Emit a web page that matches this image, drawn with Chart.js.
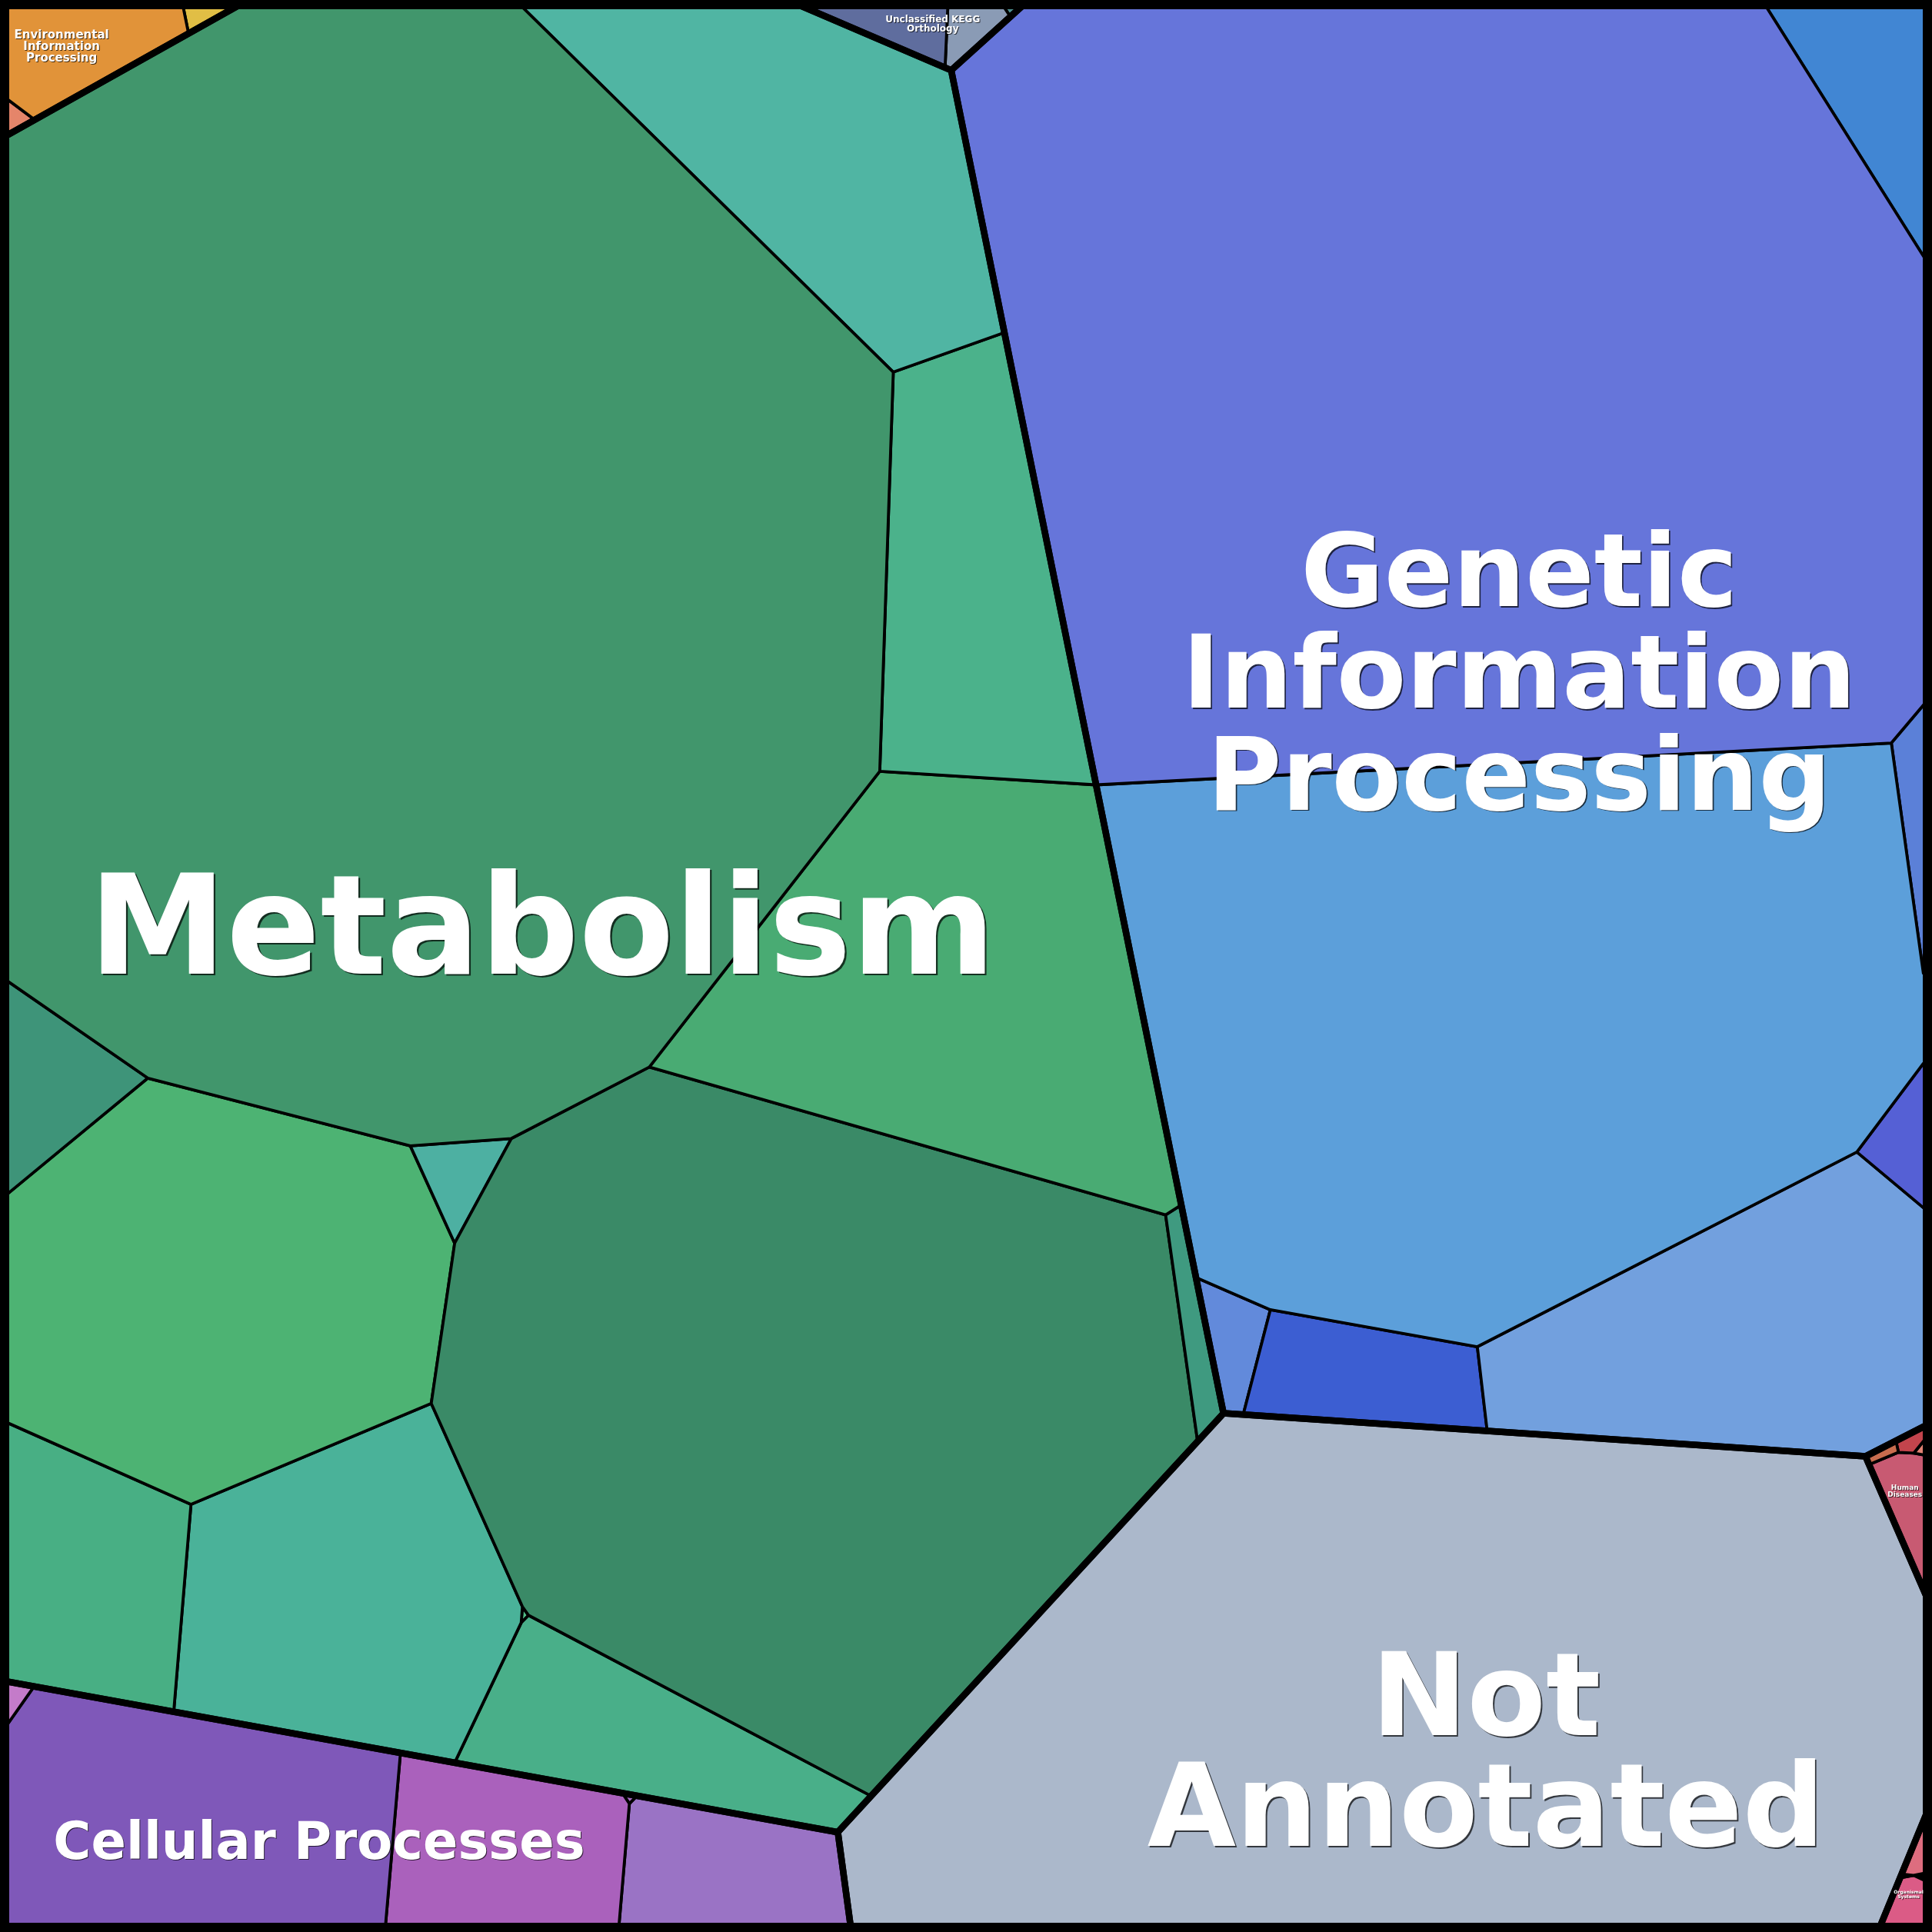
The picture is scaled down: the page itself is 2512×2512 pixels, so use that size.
<!DOCTYPE html>
<html>
<head>
<meta charset="utf-8">
<script src="https://cdn.jsdelivr.net/npm/chart.js@4.4.0/dist/chart.umd.min.js"></script>
<style>
  html, body { margin: 0; padding: 0; background: #000; }
  canvas { display: block; }
</style>
</head>
<body>
<canvas id="voronoiChart" width="2512" height="2512"></canvas>
<script>
// ------- categories (top level cells) -------
const categories = ['Metabolism', 'Genetic Information Processing', 'Not Annotated', 'Cellular Processes',
  'Environmental Information Processing', 'Unclassified KEGG Orthology', 'Human Diseases', 'Organismal Systems']

// outline of each category, same order as categories (plot units 0..1568)
const categoryOutlines = [
  [[0,113],[201.5,0],[639,0],[772,57],[993,1147],[680,1487],[0,1363.7]],
  [[772,57],[835,0],[1568,0],[1568,1154.4],[1514,1182],[993,1147]],
  [[993,1147],[1514,1182],[1568,1306],[1568,1461],[1524,1568],[691,1568],[680,1487]],
  [[0,1363.7],[680,1487],[691,1568],[0,1568]],
  [[0,0],[201.5,0],[0,113]],
  [[639,0],[835,0],[772,57]],
  [[1514,1182],[1568,1154.4],[1568,1306]],
  [[1568,1461],[1568,1568],[1524,1568]]
]

// ------- sub cells per category -------
const metabolismCells = [
  [[0,113],[201.5,0],[418,0],[725,302],[714,626],[527,866],[415,924],[333,930],[120,875],[0,792]],
  [[418,0],[639,0],[772,57],[815,270],[725,302]],
  [[725,302],[815,270],[889.5,637],[714,626]],
  [[714,626],[889.5,637],[958.5,978],[946,986],[527,866]],
  [[946,986],[958.5,978],[993,1147],[972,1170]],
  [[369,1009],[415,924],[527,866],[946,986],[972,1170],[707,1457.6],[429,1311],[424,1304],[350,1139]],
  [[333,930],[415,924],[369,1009]],
  [[0,792],[120,875],[0,974]],
  [[0,974],[120,875],[333,930],[369,1009],[350,1139],[155,1221],[0,1152]],
  [[0,1152],[155,1221],[141,1389.3],[0,1363.7]],
  [[155,1221],[350,1139],[424,1304],[423,1317],[369,1430.6],[141,1389.3]],
  [[423,1317],[429,1311],[707,1457.6],[680,1487],[369,1430.6]],
  [[424,1304],[429,1311],[423,1317]]
]
const geneticCells = [
  [[772,57],[835,0],[1430,0],[1568,219],[1568,564],[1535,603],[889.5,637]],
  [[1430,0],[1568,0],[1568,219]],
  [[889.5,637],[1535,603],[1561,790],[1568,790],[1568,863],[1561,863],[1507,935],[1199,1093],[1031,1063],[971,1037]],
  [[1535,603],[1568,564],[1568,790],[1561,790]],
  [[1507,935],[1561,863],[1568,863],[1568,986]],
  [[1199,1093],[1507,935],[1568,986],[1568,1154.4],[1514,1182],[1207,1161.4]],
  [[1031,1063],[1199,1093],[1207,1161.4],[1009,1148.1]],
  [[971,1037],[1031,1063],[1009,1148.1],[993,1147]]
]
const notAnnotatedCells = [
  [[993,1147],[1514,1182],[1568,1306],[1568,1461],[1524,1568],[691,1568],[680,1487]]
]
const cellularCells = [
  [[0,1363.7],[27.7,1368.7],[0,1408]],
  [[0,1408],[27.7,1368.7],[325,1422.6],[312.4,1568],[0,1568]],
  [[325,1422.6],[505,1455.2],[510.8,1463.8],[501.9,1568],[312.4,1568]],
  [[505,1455.2],[517,1457.4],[510.8,1463.8]],
  [[517,1457.4],[680,1487],[691,1568],[501.9,1568],[510.8,1463.8]]
]
const environmentalCells = [
  [[0,0],[147.5,0],[153,27],[28,97],[0,76]],
  [[147.5,0],[201.5,0],[153,27]],
  [[0,76],[28,97],[0,113]]
]
const unclassifiedCells = [
  [[639,0],[769.5,0],[767,55],[772,57]],
  [[769.5,0],[811,0],[820,13.5],[772,57],[767,55]],
  [[811,0],[835,0],[820,13.5]]
]
const humanCells = [
  [[1514,1182],[1538.7,1169.4],[1540.8,1178.7],[1517.3,1188.5]],
  [[1538.7,1169.4],[1568,1154.4],[1568,1161],[1553.3,1179.3],[1540.8,1178.7]],
  [[1553.3,1179.3],[1568,1161],[1568,1182]],
  [[1517.3,1188.5],[1540.8,1178.7],[1553.3,1179.3],[1568,1182],[1568,1306]]
]
const organismalCells = [
  [[1568,1461],[1568,1519],[1553,1522],[1543.4,1521]],
  [[1543.4,1521],[1553,1522],[1542.1,1524]],
  [[1542.1,1524],[1553,1522],[1568,1529],[1568,1568],[1524.1,1568]]
]

// ------- colours -------
const metabolismColors = ['#41966c', '#50b5a3', '#4bb28b', '#49ab73', '#3f9a80', '#3a8a67', '#4db0a2',
  '#3e9479', '#4db373', '#48af84', '#4ab299', '#49af89', '#52bc88']
const geneticColors = ['#6675da', '#4186d3', '#5c9fda', '#5b80d8', '#5560d5', '#72a0de', '#3c5ed2', '#628adb']
const notAnnotatedColors = ['#abb8cb']
const cellularColors = ['#c47bc9', '#7f58b9', '#aa61bc', '#a46ac0', '#9a73c5']
const environmentalColors = ['#e19339', '#e1be45', '#e5856a']
const unclassifiedColors = ['#5f6d9e', '#8a9bb5', '#4e9090']
const humanColors = ['#c86d4e', '#c3444c', '#e18273', '#c85a72']
const organismalColors = ['#dd6d7f', '#e0655e', '#db5b86']

// ------- labels -------
const labelLines = [
  ['Metabolism'],
  ['Genetic', 'Information', 'Processing'],
  ['Not', 'Annotated'],
  ['Cellular Processes'],
  ['Environmental', 'Information', 'Processing'],
  ['Unclassified KEGG', 'Orthology'],
  ['Human', 'Diseases'],
  ['Organismal', 'Systems']
]
// [x, first baseline, line step] in plot units, font size in px
const labelAnchors = [[440, 790, 0], [1233, 492, 82.5], [1206, 1408, 90], [259, 1509, 0],
  [50, 31, 9.6], [757, 18.3, 7.1], [1546, 1209.3, 5.6], [1549, 1537, 3.7]]
const labelSizes = [180, 132, 149, 67, 15, 12, 9, 6]

const frame = [[0,0],[1568,0],[1568,1568],[0,1568]]

const polygon = pts => pts.concat([pts[0]]).map(([x, y]) => ({ x, y }))

const lineBase = { showLine: true, pointRadius: 0, pointHoverRadius: 0, tension: 0,
  borderColor: '#000', borderJoinStyle: 'round', borderCapStyle: 'round' }

const cellGroups = [
  [metabolismCells, metabolismColors], [geneticCells, geneticColors], [notAnnotatedCells, notAnnotatedColors],
  [cellularCells, cellularColors], [environmentalCells, environmentalColors], [unclassifiedCells, unclassifiedColors],
  [humanCells, humanColors], [organismalCells, organismalColors]
]

const datasets = []
cellGroups.forEach(([cells, colors]) => {
  cells.forEach((pts, i) => {
    datasets.push({ ...lineBase, data: polygon(pts), backgroundColor: colors[i], borderWidth: 3.8, fill: 'shape', order: 3 })
  })
})
categoryOutlines.forEach((pts, i) => {
  datasets.push({ ...lineBase, label: categories[i], data: polygon(pts), borderWidth: 8.5, fill: false, order: 2 })
})
datasets.push({ ...lineBase, data: polygon(frame), borderWidth: 24, borderJoinStyle: 'miter', fill: false, order: 1 })

//    ------- labels plugin ----------
const labelPlugin = {
  id: 'cellLabels',
  afterDatasetsDraw(chart) {
    const { ctx, scales: { x, y } } = chart
    labelLines.forEach((lines, i) => {
      const [lx, ly, step] = labelAnchors[i]
      const size = labelSizes[i]
      ctx.save()
      ctx.font = `bold ${size}px "DejaVu Sans"`
      ctx.textAlign = 'center'
      ctx.textBaseline = 'alphabetic'
      ctx.fillStyle = '#fff'
      ctx.shadowColor = 'rgba(0, 0, 0, 0.7)'
      ctx.shadowOffsetX = ctx.shadowOffsetY = Math.max(1, size * 0.013)
      lines.forEach((line, k) => {
        ctx.fillText(line, x.getPixelForValue(lx), y.getPixelForValue(ly + k * step))
      })
      ctx.restore()
    })
  }
}

const ctx = document.getElementById('voronoiChart').getContext('2d')
const chart = new Chart(ctx, {
  type: 'scatter',
  data: { datasets },
  options: {
    responsive: false,
    animation: false,
    devicePixelRatio: 1,
    events: [],
    layout: { padding: 0 },
    plugins: { legend: { display: false }, tooltip: { enabled: false } },
    scales: {
      x: { type: 'linear', min: 0, max: 1568, display: false },
      y: { type: 'linear', min: 0, max: 1568, reverse: true, display: false }
    }
  },
  plugins: [labelPlugin]
})
</script>
</body>
</html>
